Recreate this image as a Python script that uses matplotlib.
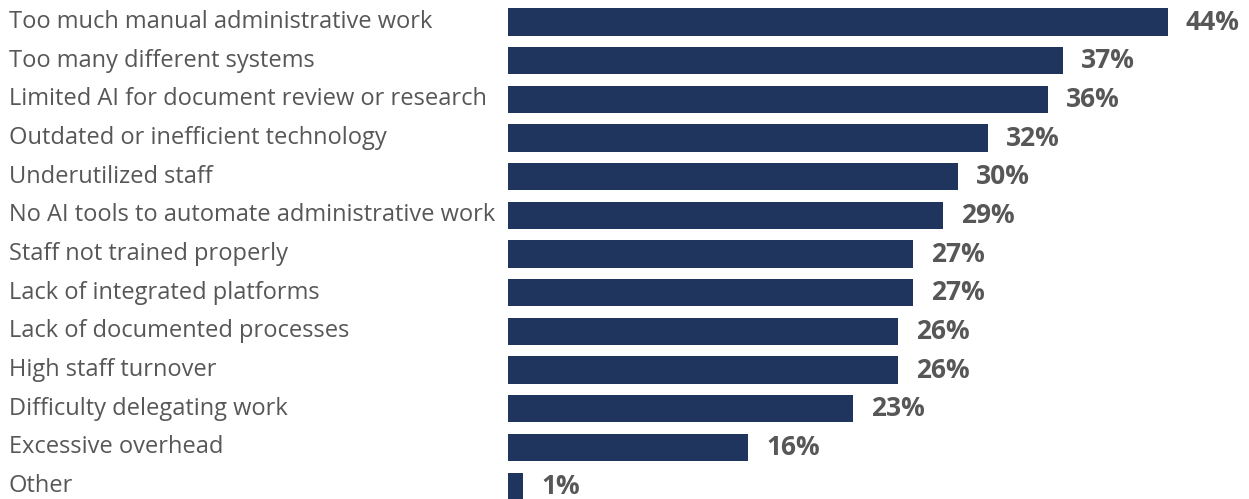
import matplotlib.pyplot as plt
import matplotlib.transforms as mtransforms

categorias = [
    "Too much manual administrative work",
    "Too many different systems",
    "Limited AI for document review or research",
    "Outdated or inefficient technology",
    "Underutilized staff",
    "No AI tools to automate administrative work",
    "Staff not trained properly",
    "Lack of integrated platforms",
    "Lack of documented processes",
    "High staff turnover",
    "Difficulty delegating work",
    "Excessive overhead",
    "Other",
]
valores = [44, 37, 36, 32, 30, 29, 27, 27, 26, 26, 23, 16, 1]

color_barra = "#1f355e"
color_texto = "#575757"

plt.rcParams['font.family'] = ['Open Sans', 'DejaVu Sans']

fig = plt.figure(figsize=(12.49, 4.99), dpi=100)
ax = fig.add_axes([508 / 1249, 0, 741 / 1249, 1])

pos = list(range(len(categorias)))
ax.barh(pos, valores, height=0.7, color=color_barra)
ax.set_xlim(0, 741 / 15)
ax.set_ylim((499 - 22) / 38.67, -22 / 38.67)
ax.axis("off")

# Etiquetas de valor al final de cada barra
for y, v in zip(pos, valores):
    ax.annotate(f"{v}%", (v, y), xytext=(18, 0), textcoords="offset pixels",
                ha="left", va="center", fontsize=19, fontweight="bold",
                color=color_texto)

# Nombres de categoría alineados a la izquierda de la figura
trans = mtransforms.blended_transform_factory(fig.transFigure, ax.transData)
for y, c in zip(pos, categorias):
    ax.text(9 / 1249, y, c, transform=trans, ha="left", va="center",
            fontsize=17, color=color_texto)

fig.savefig("out.png", dpi=100)
